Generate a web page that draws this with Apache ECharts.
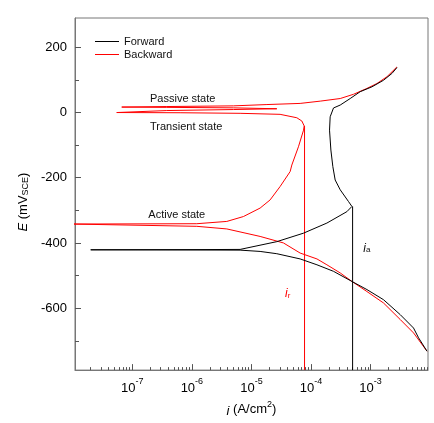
<!DOCTYPE html>
<html>
<head>
<meta charset="utf-8">
<script src="https://cdn.jsdelivr.net/npm/echarts@6/dist/echarts.min.js"></script>
<style>
html,body{margin:0;padding:0;background:#fff;}
#chart{width:434px;height:423px;}
</style>
</head>
<body>
<div id="chart"></div>
<script>
// ---- data (current density i in A/cm2, potential E in mV vs SCE) ----
const forwardI = [8.87e-3, 6.41e-3, 5.28e-3, 3.16e-3, 1.65e-3, 8.7e-4, 4.87e-4, 2.39e-4, 1.26e-4, 6.58e-5,
  2.67e-5, 1.4e-5, 6.46e-6, 1.37e-6, 2.0e-8, 1.37e-6, 6.46e-6, 2.67e-5, 7.48e-5, 1.85e-4,
  4.01e-4, 4.87e-4, 4.27e-4, 3.1e-4, 2.55e-4, 2.33e-4, 2.16e-4, 2.05e-4, 2.1e-4, 2.39e-4,
  3.1e-4, 4.56e-4, 6.71e-4, 1.06e-3, 1.65e-3, 2.29e-3, 2.78e-3];
const forwardE = [-732, -691, -661, -620, -574, -543, -518, -487, -467, -449,
  -433, -426, -422, -421.6, -421, -420.4, -419.8, -396, -370, -339,
  -304, -288, -273, -237, -207, -166, -115, -54, -13, 14,
  23, 43, 64, 79, 99, 120, 138];

const backwardI = [2.78e-3, 1.89e-3, 1.28e-3, 8.7e-4, 5.18e-4, 3.1e-4, 1.43e-4, 6.58e-5, 1.82e-5, 4.98e-6,
  3.79e-7, 6.64e-8, 3.79e-7, 4.98e-6, 2.67e-5, 4.98e-6, 3.79e-7, 5.47e-8, 6.34e-7, 6.46e-6,
  3.03e-5, 5.79e-5, 7.03e-5, 7.69e-5, 7.5e-5, 6.16e-5, 4.77e-5, 4.47e-5, 3.03e-5, 2.06e-5,
  1.4e-5, 7.34e-6, 3.86e-6, 1.21e-6, 1.0e-8, 1.21e-6, 3.86e-6, 1.4e-5, 3.45e-5, 6.58e-5,
  1.26e-4, 1.85e-4, 3.1e-4, 4.87e-4, 8.7e-4, 1.65e-3, 3.16e-3, 5.28e-3, 8.87e-3];
const backwardE = [140, 110, 89, 74, 56, 43, 35, 28, 24.5, 20.5,
  18.4, 16.8, 15.9, 14.4, 11.6, 9.2, 6.1, 0, -0.6, -2.4,
  -5.5, -16, -26, -41, -54, -105, -161, -181, -227, -268,
  -293, -319, -334, -341, -342, -349, -357, -380, -400, -431,
  -449, -467, -492, -518, -549, -584, -635, -676, -732];

const iaValue = 5.0e-4;  const iaTopE = -288;   // anodic current marker
const irValue = 7.8e-5;  const irTopE = -41;    // reverse current marker

const annotationText = ['Passive state', 'Transient state', 'Active state'];
const annotationI = [1.98e-7, 1.98e-7, 1.86e-7];
const annotationE = [43, -44, -314];

const markerLabelText = ['a', 'r'];
const markerLabelI = [7.55e-4, 3.68e-5];
const markerLabelE = [-416, -556];

const xMajorTicks = [1e-7, 1e-6, 1e-5, 1e-4, 1e-3];
const yMajorTicks = [-600, -400, -200, 0, 200];
const yMinorTicks = [-700, -500, -300, -100, 100];
const xMin = 1.09e-8, xMax = 9.23e-3, yMin = -790, yMax = 290;

const xMinorTicks = [];
for (let p = -8; p <= -3; p++) {
  for (let k = 2; k <= 9; k++) {
    const v = k * Math.pow(10, p);
    if (v > xMin && v < xMax) xMinorTicks.push(v);
  }
}

const zip = (a, b) => a.map((v, idx) => [v, b[idx]]);
const FONT = '"Liberation Sans", Arial, sans-serif';
const AXC = '#777';
const RED = '#ff0000';

const chart = echarts.init(document.getElementById('chart'), null, {renderer: 'canvas'});

const baseX = {
  type: 'log', logBase: 10, min: xMin, max: xMax, gridIndex: 0, position: 'bottom'
};
const baseY = {type: 'value', min: yMin, max: yMax, gridIndex: 0, position: 'left'};

const option = {
  backgroundColor: '#fff',
  animation: false,
  textStyle: {fontFamily: FONT},
  grid: {left: 75, right: 6, top: 18, bottom: 52, show: true, borderColor: AXC, borderWidth: 1, backgroundColor: 'transparent'},
  legend: {
    data: ['Forward', 'Backward'],
    orient: 'vertical', left: 95, top: 35, itemGap: 0, padding: 0,
    icon: 'rect', itemWidth: 24, itemHeight: 1,
    textStyle: {fontSize: 11, color: '#111', fontFamily: FONT, lineHeight: 13}
  },
  xAxis: [
    Object.assign({}, baseX, {
      name: '{it|i} (A/cm{s|2})', nameLocation: 'middle', nameGap: 25,
      nameTextStyle: {rich: {
        it: {fontSize: 13, fontStyle: 'italic', color: '#000', fontFamily: FONT, lineHeight: 18, verticalAlign: 'bottom'},
        n: {fontSize: 13, color: '#000', fontFamily: FONT, lineHeight: 18, verticalAlign: 'bottom'},
        s: {fontSize: 9, color: '#000', fontFamily: FONT, lineHeight: 9, verticalAlign: 'top'}
      }, fontSize: 13, color: '#000', fontFamily: FONT, lineHeight: 18, verticalAlign: 'top'},
      axisLine: {show: true, onZero: false, lineStyle: {color: AXC, width: 1}},
      axisTick: {show: true, inside: true, length: 6, customValues: xMajorTicks, lineStyle: {color: '#555'}},
      minorTick: {show: false},
      splitLine: {show: false},
      axisLabel: {
        customValues: xMajorTicks, margin: 7, color: '#000',
        formatter: v => '{b|10}{s|' + Math.round(Math.log10(v)) + '}',
        rich: {
          b: {fontSize: 13, color: '#000', fontFamily: FONT, lineHeight: 18, verticalAlign: 'bottom'},
          s: {fontSize: 9, color: '#000', fontFamily: FONT, lineHeight: 9, verticalAlign: 'top'}
        }
      }
    }),
    Object.assign({}, baseX, {
      axisLine: {show: false, onZero: false}, axisLabel: {show: false}, splitLine: {show: false},
      axisTick: {show: true, inside: true, length: 3, customValues: xMinorTicks, lineStyle: {color: '#555'}}
    })
  ],
  yAxis: [
    Object.assign({}, baseY, {
      name: '{it|E} (mV{sub|SCE})', nameLocation: 'middle', nameGap: 34,
      nameTextStyle: {rich: {
        it: {fontSize: 13, fontStyle: 'italic', color: '#000', fontFamily: FONT, lineHeight: 13, verticalAlign: 'top'},
        sub: {fontSize: 9, color: '#000', fontFamily: FONT, lineHeight: 9, padding: [6, 0, 0, 0], verticalAlign: 'bottom'}
      }, fontSize: 13, color: '#000', fontFamily: FONT, padding: [0, 16, 0, 0]},
      axisLine: {show: true, onZero: false, lineStyle: {color: AXC, width: 1}},
      axisTick: {show: true, inside: true, length: 6, customValues: yMajorTicks, lineStyle: {color: '#555'}},
      axisLabel: {customValues: yMajorTicks, margin: 8, fontSize: 13, color: '#000', fontFamily: FONT},
      splitLine: {show: false}
    }),
    Object.assign({}, baseY, {
      axisLine: {show: false, onZero: false}, axisLabel: {show: false}, splitLine: {show: false},
      axisTick: {show: true, inside: true, length: 4, customValues: yMinorTicks, lineStyle: {color: '#555'}}
    })
  ],
  series: [
    {
      name: 'Backward', type: 'line', data: zip(backwardI, backwardE),
      itemStyle: {color: RED}, showSymbol: false, symbol: 'none', lineStyle: {width: 1, color: RED}, z: 2
    },
    {
      name: 'Forward', type: 'line', data: zip(forwardI, forwardE),
      itemStyle: {color: '#000'}, showSymbol: false, symbol: 'none', lineStyle: {width: 1, color: '#000'}, z: 3
    },
    {
      name: 'ia', type: 'line', data: [[iaValue, iaTopE], [iaValue, yMin]],
      showSymbol: false, symbol: 'none', lineStyle: {width: 1, color: '#000'}, z: 3
    },
    {
      name: 'ir', type: 'line', data: [[irValue, irTopE], [irValue, yMin]],
      showSymbol: false, symbol: 'none', lineStyle: {width: 1, color: RED}, z: 2
    },
    {
      name: 'annotations', type: 'custom', coordinateSystem: 'cartesian2d', silent: true,
      data: annotationText.map((t, idx) => ({value: [annotationI[idx], annotationE[idx]], name: t})),
      renderItem: (params, api) => {
        const p = api.coord([api.value(0), api.value(1)]);
        return {type: 'text', x: p[0], y: p[1], style: {
          text: annotationText[params.dataIndex], fill: '#111', fontSize: 11, fontFamily: FONT,
          align: 'left', verticalAlign: 'middle'
        }};
      }, z: 5
    },
    {
      name: 'markerLabels', type: 'custom', coordinateSystem: 'cartesian2d', silent: true,
      data: markerLabelText.map((t, idx) => ({value: [markerLabelI[idx], markerLabelE[idx]], name: t})),
      renderItem: (params, api) => {
        const p = api.coord([api.value(0), api.value(1)]);
        const col = params.dataIndex === 0 ? '#111' : RED;
        return {type: 'text', x: p[0], y: p[1], style: {
          text: '{i|i}{s|' + markerLabelText[params.dataIndex] + '}',
          align: 'left', verticalAlign: 'middle', fill: col,
          rich: {
            i: {fontSize: 12, fontStyle: 'italic', fill: col, fontFamily: FONT, lineHeight: 12, verticalAlign: 'top'},
            s: {fontSize: 8, fill: col, fontFamily: FONT, lineHeight: 8, padding: [6, 0, 0, 0], verticalAlign: 'bottom'}
          }
        }};
      }, z: 5
    }
  ]
};
chart.setOption(option);
</script>
</body>
</html>
